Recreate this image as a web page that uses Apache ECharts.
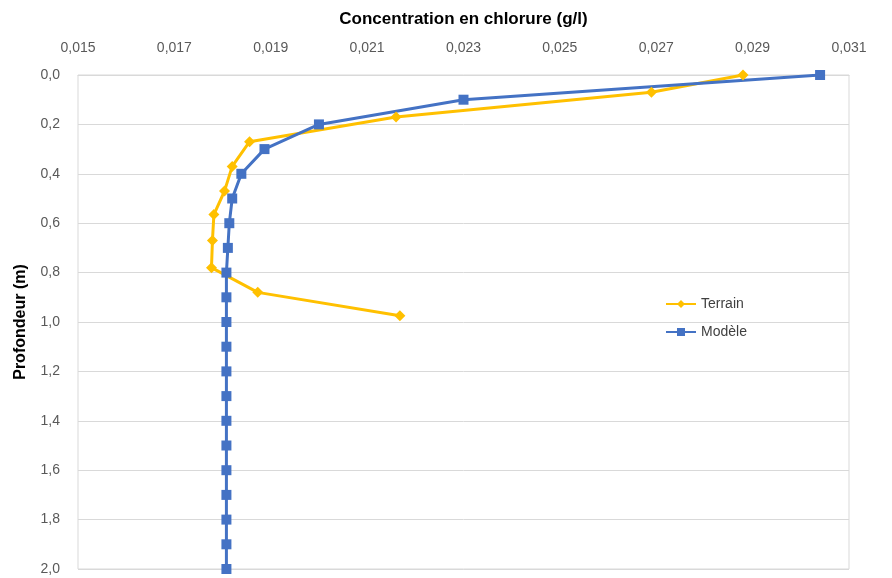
<!DOCTYPE html>
<html>
<head>
<meta charset="utf-8">
<script src="https://cdn.jsdelivr.net/npm/echarts@6/dist/echarts.min.js"></script>
<style>
  html, body { margin: 0; padding: 0; background: #fff; }
  #main { width: 892px; height: 578px; }
</style>
</head>
<body>
<div id="main"></div>
<script>
// Terrain: mesures (profondeur en m, concentration en g/l)
var terrainDepth = [0.0, 0.07, 0.17, 0.27, 0.37, 0.47, 0.565, 0.67, 0.78, 0.88, 0.975];
var terrainConc = [0.0288, 0.0269, 0.0216, 0.01856, 0.0182, 0.01804, 0.01782, 0.01779, 0.01777, 0.01873, 0.02168];

// Modèle
var modeleDepth = [0.0, 0.1, 0.2, 0.3, 0.4, 0.5, 0.6, 0.7, 0.8, 0.9, 1.0, 1.1, 1.2, 1.3, 1.4, 1.5, 1.6, 1.7, 1.8, 1.9, 2.0];
var modeleConc = [0.0304, 0.0230, 0.0200, 0.01887, 0.01839, 0.0182, 0.01814, 0.01811, 0.01808, 0.01808, 0.01808,
  0.01808, 0.01808, 0.01808, 0.01808, 0.01808, 0.01808, 0.01808, 0.01808, 0.01808, 0.01808];

function pairs(xs, ys) {
  return xs.map(function (x, i) { return [x, ys[i]]; });
}

var chart = echarts.init(document.getElementById('main'));
var font = 'Liberation Sans, Arial, sans-serif';

var option = {
  animation: false,
  textStyle: { fontFamily: font },
  grid: {
    left: 78, right: 43, top: 75, bottom: 9,
    show: true, borderColor: '#d9d9d9', borderWidth: 1
  },
  legend: {
    orient: 'vertical',
    left: 660, top: 292,
    itemWidth: 30, itemHeight: 10, itemGap: 14,
    textStyle: { fontSize: 14, color: '#404040', fontFamily: font },
    data: ['Terrain', 'Modèle']
  },
  xAxis: {
    type: 'value',
    position: 'top',
    min: 0.015, max: 0.031, interval: 0.001,
    name: 'Concentration en chlorure (g/l)',
    nameLocation: 'middle',
    nameGap: 47,
    nameTextStyle: { fontSize: 17, fontWeight: 'bold', color: '#000', fontFamily: font },
    axisLine: { show: true, lineStyle: { color: '#d9d9d9' } },
    axisTick: { show: false },
    splitLine: { show: false },
    axisLabel: {
      fontSize: 14, color: '#595959', margin: 20,
      formatter: function (v) {
        var k = Math.round(v * 1000);
        if (k % 2 === 0) return '';
        return v.toFixed(3).replace('.', ',');
      }
    }
  },
  yAxis: {
    type: 'value',
    inverse: true,
    min: 0, max: 2, interval: 0.2,
    name: 'Profondeur (m)',
    nameLocation: 'middle',
    nameGap: 49,
    nameTextStyle: { fontSize: 16, fontWeight: 'bold', color: '#000', fontFamily: font },
    axisLine: { show: false },
    axisTick: { show: false },
    splitLine: { show: true, lineStyle: { color: '#d9d9d9' } },
    axisLabel: {
      fontSize: 14, color: '#595959', margin: 18,
      formatter: function (v) { return v.toFixed(1).replace('.', ','); }
    }
  },
  series: [
    {
      name: 'Terrain',
      type: 'line',
      data: pairs(terrainConc, terrainDepth),
      symbol: 'diamond',
      symbolSize: 11,
      color: '#FFC000',
      lineStyle: { width: 3, color: '#FFC000' },
      itemStyle: { color: '#FFC000' }
    },
    {
      name: 'Modèle',
      type: 'line',
      data: pairs(modeleConc, modeleDepth),
      symbol: 'rect',
      symbolSize: 10,
      color: '#4472C4',
      lineStyle: { width: 3, color: '#4472C4' },
      itemStyle: { color: '#4472C4' }
    }
  ]
};

chart.setOption(option);
</script>
</body>
</html>
